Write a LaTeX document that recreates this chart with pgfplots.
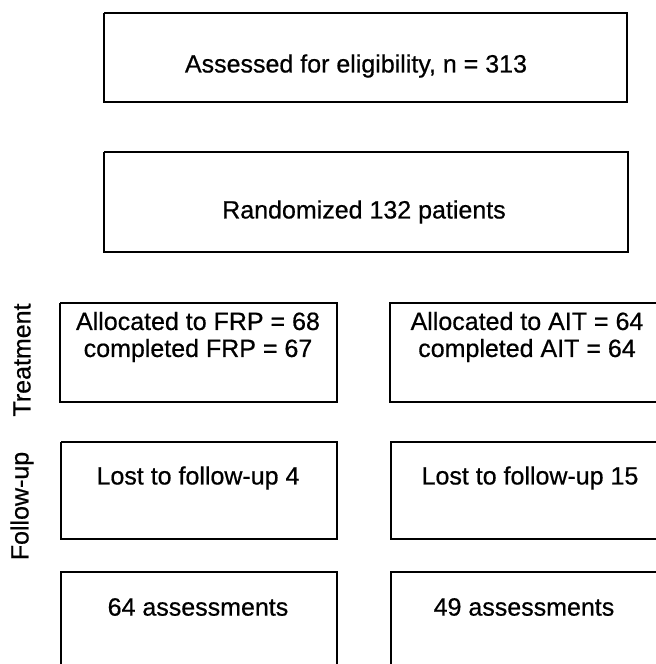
\documentclass[border=0pt]{standalone}
\usepackage{pgfplots}
\pgfplotsset{compat=1.18}
\usepackage{fontspec}
\setmainfont[FakeBold=0.6]{Liberation Sans}
\begin{document}
\fontsize{12.5}{13.5}\selectfont
\begin{tikzpicture}
\begin{axis}[
    name=ax,
    scale only axis,
    width=328pt, height=332pt,
    xmin=0, xmax=656,
    ymin=0, ymax=664,
    y dir=reverse,
    hide axis,
    clip=false,
]
% boxes (pixel coordinates, y downwards)
\addplot[black, line width=0.9pt] coordinates {(104,13) (627,13) (627,102) (104,102) (104,13)};
\addplot[black, line width=0.9pt] coordinates {(104,152) (628,152) (628,252) (104,252) (104,152)};
\addplot[black, line width=0.9pt] coordinates {(60,303) (337,303) (337,402) (60,402) (60,303)};
\addplot[black, line width=0.9pt] coordinates {(656,303) (390,303) (390,402) (656,402)};
\addplot[black, line width=0.9pt] coordinates {(61,442) (337,442) (337,539) (61,539) (61,442)};
\addplot[black, line width=0.9pt] coordinates {(656,442) (391,442) (391,539) (656,539)};
\addplot[black, line width=0.9pt] coordinates {(61,664) (61,572) (337,572) (337,664)};
\addplot[black, line width=0.9pt] coordinates {(391,664) (391,572) (656,572)};

% texts
\node at (axis cs:356,66) {Assessed for eligibility, n = 313};
\node at (axis cs:364,212) {Randomized 132 patients};
\node[align=center] at (axis cs:198,337) {Allocated to FRP = 68\\completed FRP = 67};
\node[align=center] at (axis cs:527,337) {Allocated to AIT = 64\\completed AIT = 64};
\node at (axis cs:198,478) {Lost to follow-up 4};
\node at (axis cs:530,478) {Lost to follow-up 15};
\node at (axis cs:198,607) {64 assessments};
\node at (axis cs:524,607) {49 assessments};
\node[rotate=90] at (axis cs:22,360) {Treatment};
\node[rotate=90] at (axis cs:22,506) {Follow-up};
\end{axis}
\pgfresetboundingbox
\path (ax.south west) rectangle (ax.north east);
\end{tikzpicture}
\end{document}
